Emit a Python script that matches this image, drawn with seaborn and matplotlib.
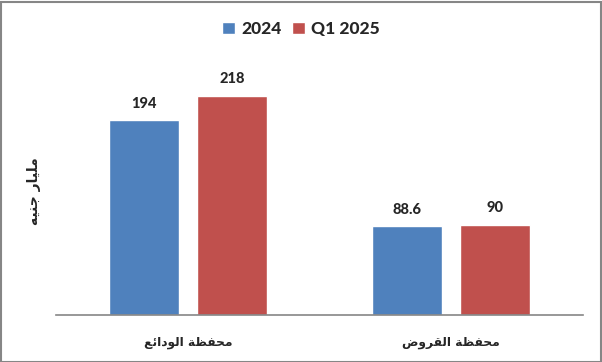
import matplotlib
matplotlib.use("Agg")
import matplotlib.pyplot as plt
import seaborn as sns
import pandas as pd
from matplotlib.patches import Rectangle, Patch

# Arabic labels, shaped to presentation forms and put in visual (left-to-right) order
categories = [
    "\uFECA\uFE8B\uFE8D\uFEA9\uFEEE\uFEDF\uFE8D \uFE94\uFEC8\uFED4\uFEA4\uFEE3",  # محفظة الودائع
    "\uFEBD\uFEED\uFEAE\uFED8\uFEDF\uFE8D \uFE94\uFEC8\uFED4\uFEA4\uFEE3",        # محفظة القروض
]
ylabel_text = "\uFEEA\uFEF4\uFEE8\uFE9F \uFEAD\uFE8E\uFEF4\uFEE0\uFEE3"  # مليار جنيه

series_names = ["2024", "Q1 2025"]
values_2024 = [194, 88.6]
values_q1_2025 = [218, 90]
value_labels_2024 = ["194", "88.6"]
value_labels_q1_2025 = ["218", "90"]
colors = ["#4F81BD", "#C0504D"]

sns.set_theme(style="white")
plt.rcParams["font.family"] = ["Lato", "DejaVu Sans"]
plt.rcParams["font.weight"] = "bold"

df = pd.DataFrame({
    "cat": categories * 2,
    "series": [series_names[0]] * 2 + [series_names[1]] * 2,
    "val": values_2024 + values_q1_2025,
})

W, H = 602, 362
fig = plt.figure(figsize=(W / 100, H / 100), dpi=100)
ax = fig.add_axes([56 / W, (H - 315.3) / H, (583 - 56) / W, (315.3 - 60) / H])

sns.barplot(data=df, x="cat", y="val", hue="series", palette=colors,
            order=categories, hue_order=series_names,
            width=0.669, gap=0.205, saturation=1, ax=ax, legend=False)

ax.set_xlim(-0.5, 1.5)
ax.set_ylim(0, 254)
for c, labs in zip(ax.containers, [value_labels_2024, value_labels_q1_2025]):
    ax.bar_label(c, labels=labs, padding=7, fontsize=10.5, fontweight="black",
                 family=["Lato", "DejaVu Sans"])

ax.set_xlabel("")
ax.set_ylabel("")
ax.set_yticks([])
ax.tick_params(axis="x", length=0, pad=15)
for lab in ax.get_xticklabels():
    lab.set_fontsize(8.8)
    lab.set_fontweight("bold")
    lab.set_family(["DejaVu Sans"])
for s in ["left", "top", "right"]:
    ax.spines[s].set_visible(False)
ax.spines["bottom"].set_color("#868686")
ax.spines["bottom"].set_linewidth(1.2)

fig.text(34 / W, 1 - 191 / H, ylabel_text, rotation=90, ha="center", va="center",
         fontsize=10, fontweight="bold", family=["DejaVu Sans"])

handles = [Patch(facecolor=colors[0]), Patch(facecolor=colors[1])]
fig.legend(handles, series_names, loc="center", bbox_to_anchor=(0.5, 1 - 29 / H),
           ncol=2, frameon=False, handlelength=0.75, handleheight=0.75,
           handletextpad=0.35, columnspacing=0.6, prop={"weight": "black", "size": 12.5,
                                                        "family": ["Lato", "DejaVu Sans"]})

fig.patches.append(Rectangle((0.5 / W, 0.5 / H), 1 - 2 / W, 1 - 2 / H, transform=fig.transFigure,
                             fill=False, edgecolor="#868686", linewidth=1.5))

fig.savefig("out.png", dpi=100)
